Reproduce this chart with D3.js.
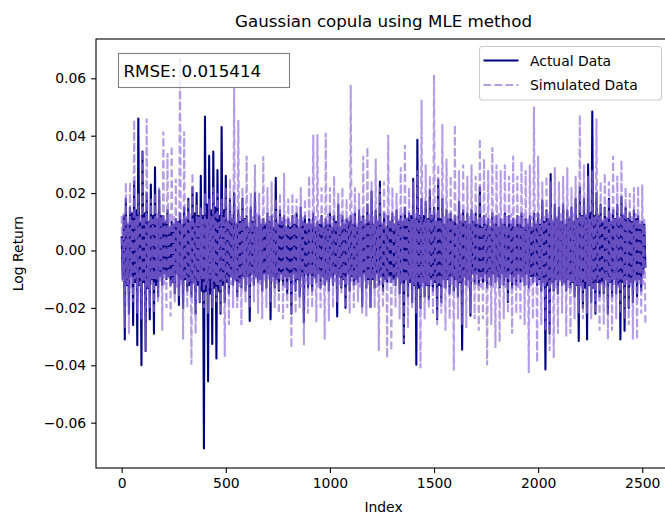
<!DOCTYPE html>
<html>
<head>
<meta charset="utf-8">
<script src="https://cdn.jsdelivr.net/npm/d3@7"></script>
<style>
  body { margin: 0; background: #fff; }
  svg { font-family: "DejaVu Sans", sans-serif; }
</style>
</head>
<body>
<div id="chart"></div>
<script>
// 每 5 個 index 取一個值 (index = k * 5)
const indexStep = 5;

// Actual Data (log return)
const actualLog = [
  0.005, -0.010, 0.012, -0.031, 0.018, -0.012, 0.009, -0.022, 0.015, -0.009, 0.013, -0.026, 0.024, -0.011, 0.014, -0.033, 0.046, -0.012, 0.010, -0.040,
  0.0345, -0.011, 0.013, -0.035, 0.020, -0.013, 0.010, -0.024, 0.023, -0.010, 0.012, -0.029, 0.029, -0.012, 0.011, -0.016, 0.021, -0.009, 0.012, -0.012,
  0.012, -0.008, 0.010, -0.010, 0.014, -0.009, 0.008, -0.012, 0.010, -0.011, 0.009, -0.015, 0.011, -0.008, 0.010, -0.019, 0.013, -0.010, 0.009, -0.020,
  0.015, -0.010, 0.011, -0.014, 0.018, -0.012, 0.010, -0.016, 0.022, -0.011, 0.013, -0.022, 0.020, -0.012, 0.012, -0.018, 0.026, -0.014, 0.012, -0.069,
  0.0467, -0.014, 0.016, -0.0456, 0.033, -0.015, 0.014, -0.0326, 0.0345, -0.013, 0.015, -0.0376, 0.028, -0.014, 0.012, -0.022, 0.043, -0.012, 0.014, -0.018,
  0.026, -0.011, 0.010, -0.015, 0.018, -0.009, 0.011, -0.012, 0.020, -0.010, 0.009, -0.016, 0.014, -0.011, 0.010, -0.013, 0.018, -0.009, 0.011, -0.014,
  0.012, -0.009, 0.008, -0.0246, 0.015, -0.008, 0.010, -0.012, 0.020, -0.009, 0.008, -0.011, 0.012, -0.010, 0.009, -0.014, 0.011, -0.008, 0.009, -0.013,
  0.013, -0.008, 0.010, -0.024, 0.012, -0.009, 0.008, -0.013, 0.0253, -0.010, 0.009, -0.014, 0.014, -0.008, 0.010, -0.012, 0.012, -0.009, 0.008, -0.015,
  0.011, -0.009, 0.008, -0.022, 0.012, -0.008, 0.009, -0.014, 0.013, -0.010, 0.008, -0.016, 0.015, -0.009, 0.010, -0.025, 0.012, -0.008, 0.009, -0.013,
  0.011, -0.008, 0.009, -0.014, 0.013, -0.009, 0.008, -0.011, 0.010, -0.008, 0.009, -0.013, 0.012, -0.009, 0.008, -0.012, 0.011, -0.010, 0.009, -0.014,
  0.013, -0.009, 0.008, -0.012, 0.012, -0.008, 0.010, -0.023, 0.016, -0.009, 0.008, -0.013, 0.012, -0.010, 0.009, -0.020, 0.011, -0.008, 0.010, -0.014,
  0.012, -0.009, 0.009, -0.012, 0.013, -0.010, 0.008, -0.011, 0.014, -0.009, 0.010, -0.0195, 0.012, -0.008, 0.009, -0.013, 0.016, -0.010, 0.010, -0.0197,
  0.0205, -0.010, 0.009, -0.013, 0.014, -0.008, 0.010, -0.012, 0.024, -0.009, 0.009, -0.014, 0.013, -0.010, 0.008, -0.011, 0.012, -0.009, 0.010, -0.011,
  0.013, -0.010, 0.009, -0.012, 0.014, -0.009, 0.010, -0.015, 0.012, -0.011, 0.010, -0.0323, 0.015, -0.010, 0.011, -0.016, 0.013, -0.011, 0.012, -0.018,
  0.025, -0.012, 0.011, -0.0398, 0.0386, -0.013, 0.012, -0.020, 0.018, -0.011, 0.012, -0.016, 0.017, -0.012, 0.011, -0.017, 0.021, -0.010, 0.012, -0.014,
  0.015, -0.011, 0.010, -0.024, 0.0247, -0.012, 0.011, -0.018, 0.018, -0.010, 0.009, -0.013, 0.014, -0.010, 0.011, -0.015, 0.013, -0.009, 0.010, -0.014,
  0.012, -0.010, 0.009, -0.016, 0.017, -0.011, 0.010, -0.0346, 0.014, -0.009, 0.010, -0.012, 0.013, -0.010, 0.009, -0.0227, 0.014, -0.008, 0.010, -0.0115,
  0.013, -0.008, 0.009, -0.012, 0.022, -0.009, 0.008, -0.011, 0.012, -0.008, 0.009, -0.013, 0.011, -0.009, 0.008, -0.012, 0.013, -0.008, 0.009, -0.011,
  0.012, -0.009, 0.008, -0.013, 0.011, -0.008, 0.009, -0.012, 0.013, -0.009, 0.008, -0.018, 0.012, -0.008, 0.009, -0.013, 0.011, -0.009, 0.008, -0.012,
  0.012, -0.008, 0.009, -0.011, 0.013, -0.009, 0.008, -0.012, 0.011, -0.008, 0.009, -0.013, 0.012, -0.009, 0.008, -0.011, 0.013, -0.009, 0.009, -0.012,
  0.013, -0.010, 0.009, -0.014, 0.0175, -0.011, 0.010, -0.0415, 0.014, -0.012, 0.011, -0.029, 0.0266, -0.011, 0.010, -0.014, 0.016, -0.010, 0.011, -0.015,
  0.015, -0.010, 0.010, -0.012, 0.016, -0.011, 0.009, -0.014, 0.014, -0.010, 0.011, -0.013, 0.015, -0.011, 0.010, -0.016, 0.018, -0.012, 0.011, -0.0315,
  0.022, -0.012, 0.012, -0.020, 0.018, -0.013, 0.012, -0.031, 0.030, -0.012, 0.013, -0.018, 0.0484, -0.013, 0.012, -0.022, 0.020, -0.011, 0.012, -0.016,
  0.016, -0.011, 0.010, -0.015, 0.015, -0.010, 0.011, -0.022, 0.018, -0.011, 0.010, -0.016, 0.014, -0.010, 0.011, -0.015, 0.016, -0.012, 0.011, -0.031,
  0.0187, -0.011, 0.012, -0.028, 0.015, -0.010, 0.011, -0.020, 0.013, -0.011, 0.010, -0.018, 0.014, -0.010, 0.011, -0.016, 0.012, -0.010, 0.009, -0.014,
  0.010, -0.008, 0.009, -0.006
];

// Simulated Data (Gaussian copula, MLE)
const simulatedLog = [
  0.012, -0.011, 0.013, -0.027, 0.0237, -0.012, 0.010, -0.029, 0.0238, -0.013, 0.011, -0.018, 0.0455, -0.010, 0.012, -0.022, 0.020, -0.012, 0.013, -0.024,
  0.035, -0.011, 0.012, -0.035, 0.046, -0.013, 0.010, -0.020, 0.018, -0.012, 0.011, -0.022, 0.020, -0.010, 0.013, -0.018, 0.022, -0.011, 0.012, -0.028,
  0.0415, -0.012, 0.011, -0.020, 0.034, -0.010, 0.013, -0.023, 0.0365, -0.011, 0.012, -0.018, 0.025, -0.013, 0.010, -0.016, 0.0676, -0.012, 0.011, -0.031,
  0.0415, -0.010, 0.012, -0.020, 0.018, -0.011, 0.013, -0.0398, 0.027, -0.012, 0.010, -0.029, 0.016, -0.011, 0.012, -0.018, 0.015, -0.010, 0.011, -0.020,
  0.020, -0.012, 0.011, -0.022, 0.018, -0.010, 0.012, -0.020, 0.022, -0.011, 0.013, -0.018, 0.020, -0.012, 0.010, -0.022, 0.018, -0.011, 0.012, -0.037,
  0.022, -0.010, 0.011, -0.026, 0.025, -0.012, 0.013, -0.020, 0.0566, -0.011, 0.010, -0.020, 0.0455, -0.013, 0.012, -0.026, 0.022, -0.010, 0.011, -0.018,
  0.033, -0.012, 0.010, -0.020, 0.020, -0.011, 0.012, -0.018, 0.030, -0.010, 0.013, -0.022, 0.020, -0.012, 0.011, -0.024, 0.0328, -0.011, 0.010, -0.020,
  0.022, -0.010, 0.012, -0.018, 0.024, -0.011, 0.013, -0.020, 0.018, -0.012, 0.010, -0.022, 0.020, -0.011, 0.012, -0.024, 0.027, -0.013, 0.011, -0.020,
  0.018, -0.011, 0.010, -0.034, 0.020, -0.012, 0.013, -0.022, 0.018, -0.010, 0.011, -0.020, 0.022, -0.013, 0.012, -0.033, 0.018, -0.011, 0.010, -0.022,
  0.026, -0.012, 0.011, -0.020, 0.0403, -0.010, 0.012, -0.025, 0.0405, -0.013, 0.011, -0.020, 0.022, -0.012, 0.010, -0.031, 0.041, -0.011, 0.013, -0.0247,
  0.022, -0.010, 0.012, -0.020, 0.026, -0.011, 0.010, -0.018, 0.020, -0.012, 0.013, -0.015, 0.022, -0.010, 0.011, -0.020, 0.018, -0.012, 0.012, -0.022,
  0.0577, -0.011, 0.013, -0.020, 0.022, -0.012, 0.010, -0.018, 0.020, -0.013, 0.012, -0.022, 0.033, -0.011, 0.011, -0.023, 0.036, -0.012, 0.013, -0.020,
  0.024, -0.010, 0.012, -0.020, 0.032, -0.013, 0.011, -0.035, 0.022, -0.012, 0.010, -0.020, 0.024, -0.011, 0.013, -0.0375, 0.0403, -0.012, 0.011, -0.035,
  0.022, -0.013, 0.012, -0.020, 0.020, -0.010, 0.011, -0.024, 0.029, -0.012, 0.013, -0.032, 0.0368, -0.011, 0.012, -0.027, 0.022, -0.010, 0.011, -0.020,
  0.024, -0.012, 0.013, -0.022, 0.028, -0.011, 0.012, -0.041, 0.0525, -0.013, 0.010, -0.024, 0.030, -0.012, 0.011, -0.020, 0.026, -0.013, 0.012, -0.022,
  0.0612, -0.011, 0.013, -0.026, 0.030, -0.012, 0.011, -0.022, 0.044, -0.013, 0.012, -0.028, 0.032, -0.010, 0.013, -0.024, 0.026, -0.012, 0.011, -0.0418,
  0.0438, -0.013, 0.012, -0.024, 0.028, -0.011, 0.013, -0.026, 0.030, -0.012, 0.010, -0.027, 0.026, -0.013, 0.012, -0.022, 0.030, -0.011, 0.013, -0.024,
  0.026, -0.012, 0.011, -0.028, 0.039, -0.013, 0.012, -0.024, 0.032, -0.011, 0.013, -0.040, 0.028, -0.012, 0.011, -0.026, 0.036, -0.013, 0.012, -0.034,
  0.030, -0.011, 0.013, -0.032, 0.028, -0.012, 0.011, -0.024, 0.030, -0.013, 0.012, -0.022, 0.026, -0.011, 0.013, -0.029, 0.033, -0.012, 0.011, -0.022,
  0.026, -0.013, 0.012, -0.024, 0.031, -0.011, 0.013, -0.026, 0.028, -0.012, 0.011, -0.0427, 0.030, -0.013, 0.012, -0.024, 0.0502, -0.011, 0.013, -0.039,
  0.033, -0.012, 0.011, -0.026, 0.024, -0.013, 0.012, -0.028, 0.026, -0.011, 0.013, -0.035, 0.024, -0.012, 0.011, -0.0375, 0.029, -0.013, 0.012, -0.029,
  0.024, -0.011, 0.013, -0.022, 0.026, -0.012, 0.011, -0.030, 0.029, -0.013, 0.012, -0.029, 0.022, -0.011, 0.013, -0.024, 0.026, -0.012, 0.011, -0.022,
  0.0473, -0.013, 0.012, -0.024, 0.030, -0.011, 0.013, -0.022, 0.026, -0.012, 0.011, -0.024, 0.028, -0.013, 0.012, -0.022, 0.046, -0.011, 0.013, -0.028,
  0.024, -0.012, 0.011, -0.026, 0.027, -0.013, 0.012, -0.031, 0.024, -0.011, 0.013, -0.028, 0.033, -0.012, 0.011, -0.024, 0.026, -0.013, 0.012, -0.022,
  0.0315, -0.011, 0.013, -0.024, 0.022, -0.012, 0.011, -0.026, 0.020, -0.013, 0.012, -0.031, 0.022, -0.011, 0.013, -0.031, 0.0225, -0.012, 0.011, -0.022,
  0.023, -0.012, 0.011, -0.026
];

const xTicks = [0, 500, 1000, 1500, 2000, 2500];
const yTicks = [-0.06, -0.04, -0.02, 0.00, 0.02, 0.04, 0.06];
const rmseText = "RMSE: 0.015414";
const titleText = "Gaussian copula using MLE method";
const seriesNames = ["Actual Data", "Simulated Data"];

const width = 665;
const height = 515;
const margin = { top: 39, right: -6, bottom: 47, left: 96 };

const svg = d3.select("#chart")
  .append("svg")
  .attr("width", width)
  .attr("height", height);

// x / y 比例尺
const xScale = d3.scaleLinear()
  .domain([-123.3, 2638])
  .range([margin.left, width - margin.right]);

const yScale = d3.scaleLinear()
  .domain([-0.0758, 0.0737])
  .range([height - margin.bottom, margin.top]);

svg.append("clipPath")
  .attr("id", "plot-clip")
  .append("rect")
  .attr("x", margin.left)
  .attr("y", margin.top)
  .attr("width", width - margin.right - margin.left)
  .attr("height", height - margin.bottom - margin.top);

const line = d3.line()
  .x((d, i) => xScale(i * indexStep))
  .y(d => yScale(d));

const plot = svg.append("g").attr("clip-path", "url(#plot-clip)");

// 實際資料 (實線)
plot.append("path")
  .datum(actualLog)
  .attr("d", line)
  .attr("fill", "none")
  .attr("stroke", "navy")
  .attr("stroke-width", 2.08)
  .attr("stroke-linejoin", "round");

// 模擬資料 (虛線, 半透明)
plot.append("path")
  .datum(simulatedLog)
  .attr("d", line)
  .attr("fill", "none")
  .attr("stroke", "mediumpurple")
  .attr("stroke-opacity", 0.7)
  .attr("stroke-width", 2.08)
  .attr("stroke-dasharray", "7.7,3.3");

// 外框
svg.append("rect")
  .attr("x", margin.left)
  .attr("y", margin.top)
  .attr("width", width - margin.right - margin.left)
  .attr("height", height - margin.bottom - margin.top)
  .attr("fill", "none")
  .attr("stroke", "black")
  .attr("stroke-width", 1.1);

// x 軸
const xAxis = svg.append("g")
  .attr("transform", `translate(0, ${height - margin.bottom})`)
  .call(d3.axisBottom(xScale).tickValues(xTicks).tickFormat(d3.format("d")).tickSize(4.9).tickPadding(4.9).tickSizeOuter(0));
xAxis.select(".domain").remove();
xAxis.selectAll("line").attr("stroke-width", 1.1);
xAxis.selectAll("text").style("font-size", "13.9px").style("font-family", "DejaVu Sans").attr("fill", "black");

// y 軸
const yAxis = svg.append("g")
  .attr("transform", `translate(${margin.left}, 0)`)
  .call(d3.axisLeft(yScale).tickValues(yTicks).tickFormat(d3.format(".2f")).tickSize(4.9).tickPadding(4.9).tickSizeOuter(0));
yAxis.select(".domain").remove();
yAxis.selectAll("line").attr("stroke-width", 1.1);
yAxis.selectAll("text").style("font-size", "13.9px").style("font-family", "DejaVu Sans").attr("fill", "black");

// 標題與軸標籤
const plotCenterX = (margin.left + xScale.range()[1]) / 2;
svg.append("text")
  .attr("x", plotCenterX)
  .attr("y", 27)
  .attr("text-anchor", "middle")
  .style("font-size", "16.7px")
  .text(titleText);

svg.append("text")
  .attr("x", plotCenterX)
  .attr("y", 512)
  .attr("text-anchor", "middle")
  .style("font-size", "13.9px")
  .text("Index");

svg.append("text")
  .attr("transform", `translate(23, ${(margin.top + height - margin.bottom) / 2}) rotate(-90)`)
  .attr("text-anchor", "middle")
  .style("font-size", "13.9px")
  .text("Log Return");

// RMSE 文字框
const rmseBox = svg.append("g");
rmseBox.append("rect")
  .attr("x", 118.5)
  .attr("y", 53.5)
  .attr("width", 171)
  .attr("height", 34)
  .attr("fill", "white")
  .attr("fill-opacity", 0.8)
  .attr("stroke", "#808080")
  .attr("stroke-width", 1.1);
rmseBox.append("text")
  .attr("x", 123.5)
  .attr("y", 77)
  .style("font-size", "16.7px")
  .text(rmseText);

// 圖例
const legend = svg.append("g");
legend.append("rect")
  .attr("x", 479.5)
  .attr("y", 46.5)
  .attr("width", 182)
  .attr("height", 53.5)
  .attr("rx", 3)
  .attr("fill", "white")
  .attr("fill-opacity", 0.8)
  .attr("stroke", "#cccccc")
  .attr("stroke-width", 1.1);

const legendStyles = [
  { color: "navy", opacity: 1, dash: "none" },
  { color: "mediumpurple", opacity: 0.7, dash: "7.7,3.3" }
];
seriesNames.forEach((name, i) => {
  const y = 60.5 + i * 24.5;
  legend.append("line")
    .attr("x1", 483.5)
    .attr("x2", 518.5)
    .attr("y1", y)
    .attr("y2", y)
    .attr("stroke", legendStyles[i].color)
    .attr("stroke-opacity", legendStyles[i].opacity)
    .attr("stroke-width", 2.08)
    .attr("stroke-dasharray", legendStyles[i].dash);
  legend.append("text")
    .attr("x", 530)
    .attr("y", y)
    .attr("dy", "0.36em")
    .style("font-size", "13.9px")
    .text(name);
});
</script>
</body>
</html>
